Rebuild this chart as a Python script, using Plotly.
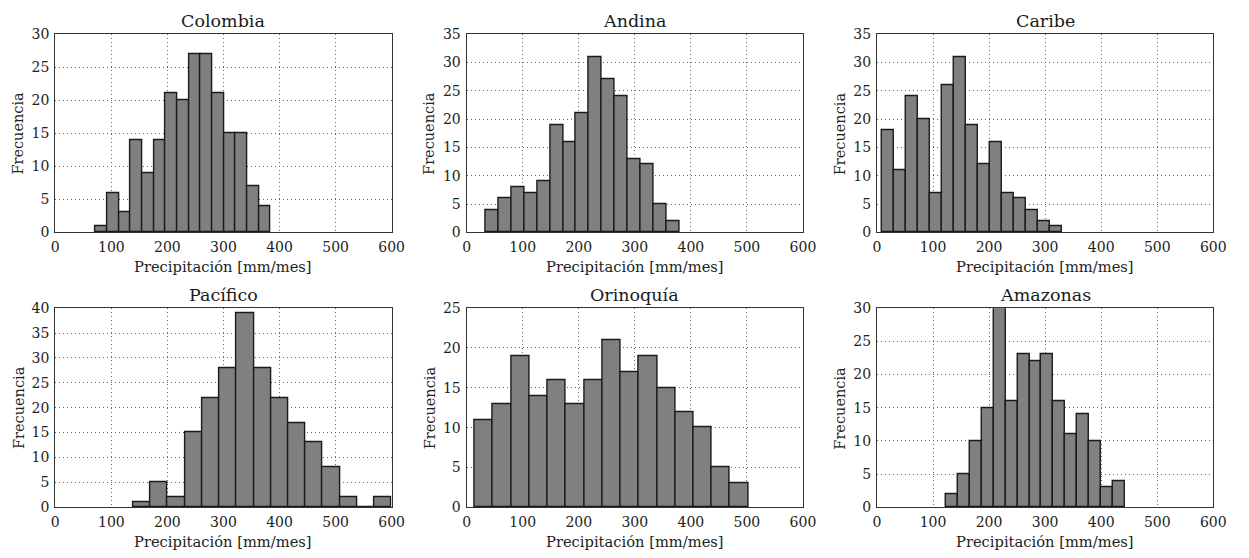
import plotly.graph_objects as go

# ---- data ----
regions = ["Colombia", "Andina", "Caribe", "Pacífico", "Orinoquía", "Amazonas"]

colombia_counts = [1, 6, 3, 14, 9, 14, 21, 20, 27, 27, 21, 15, 15, 7, 4]
andina_counts = [4, 6, 8, 7, 9, 19, 16, 21, 31, 27, 24, 13, 12, 5, 2]
caribe_counts = [18, 11, 24, 20, 7, 26, 31, 19, 12, 16, 7, 6, 4, 2, 1]
pacifico_counts = [1, 5, 2, 15, 22, 28, 39, 28, 22, 17, 13, 8, 2, 0, 2]
orinoquia_counts = [11, 13, 19, 14, 16, 13, 16, 21, 17, 19, 15, 12, 10, 5, 3]
amazonas_counts = [2, 5, 10, 15, 30, 16, 23, 22, 23, 16, 11, 14, 10, 3, 4]

# first bin edge and last bin edge [mm/mes]
colombia_range = [72.0, 384.0]
andina_range = [34.1, 379.3]
caribe_range = [8.2, 330.0]
pacifico_range = [139.1, 600.0]
orinoquia_range = [14.7, 502.5]
amazonas_range = [123.2, 442.2]

y_max = [30, 35, 35, 40, 25, 30]
x_ticks = [0, 100, 200, 300, 400, 500, 600]

counts = [colombia_counts, andina_counts, caribe_counts,
          pacifico_counts, orinoquia_counts, amazonas_counts]
ranges = [colombia_range, andina_range, caribe_range,
          pacifico_range, orinoquia_range, amazonas_range]

# ---- layout geometry (pixels) ----
W, H = 1249, 558
cols_px = [(52, 393), (469, 810), (885, 1226)]
rows_px = [(27, 231), (309, 514)]

FONT = "DejaVu Serif"
fig = go.Figure()
annotations = []

for i, name in enumerate(regions):
    r, c = divmod(i, 3)
    x0p, x1p = cols_px[c]
    y0p, y1p = rows_px[r]
    xd = [x0p / W, x1p / W]
    yd = [1 - y1p / H, 1 - y0p / H]
    cnt = counts[i]
    lo, hi = ranges[i]
    n = len(cnt)
    bw = (hi - lo) / n
    edges = [lo + k * bw for k in range(n)]
    ax = "" if i == 0 else str(i + 1)
    fig.add_trace(go.Bar(
        x=edges, y=cnt, width=[bw] * n, offset=0,
        marker=dict(color="#808080", line=dict(color="#1a1a1a", width=1.4)),
        xaxis="x" + ax, yaxis="y" + ax, showlegend=False,
        hoverinfo="x+y"))
    common = dict(showline=True, mirror=True, linecolor="#333", linewidth=1.2,
                  ticks="",
                  showgrid=True, gridcolor="#666", griddash="1px,3px", gridwidth=1,
                  zeroline=False, layer="above traces",
                  tickfont=dict(family=FONT, size=14, color="#222"))
    fig.layout["xaxis" + ax] = dict(domain=xd, anchor="y" + ax, range=[0, 600],
                                    tickvals=x_ticks, ticklabelstandoff=2, **common)
    fig.layout["yaxis" + ax] = dict(domain=yd, anchor="x" + ax, range=[0, y_max[i]],
                                    dtick=5, tick0=0, ticklabelstandoff=2, **common)
    xc = (xd[0] + xd[1]) / 2
    annotations.append(dict(text=name, x=xc, y=yd[1], xref="paper", yref="paper",
                            xanchor="center", yanchor="bottom", yshift=1, showarrow=False,
                            font=dict(family=FONT, size=17.5, color="#1a1a1a")))
    annotations.append(dict(text="Precipitación [mm/mes]", x=xc, y=yd[0],
                            xref="paper", yref="paper", xanchor="center", yanchor="middle",
                            yshift=-34, showarrow=False,
                            font=dict(family=FONT, size=14.7, color="#222")))
    annotations.append(dict(text="Frecuencia", x=xd[0], y=(yd[0] + yd[1]) / 2,
                            xref="paper", yref="paper", xanchor="center", yanchor="middle",
                            xshift=-37, textangle=-90, showarrow=False,
                            font=dict(family=FONT, size=14.5, color="#222")))

fig.update_layout(width=W, height=H, margin=dict(l=0, r=0, t=0, b=0),
                  plot_bgcolor="white", paper_bgcolor="white",
                  bargap=0, annotations=annotations)

fig.write_html("out.html")
